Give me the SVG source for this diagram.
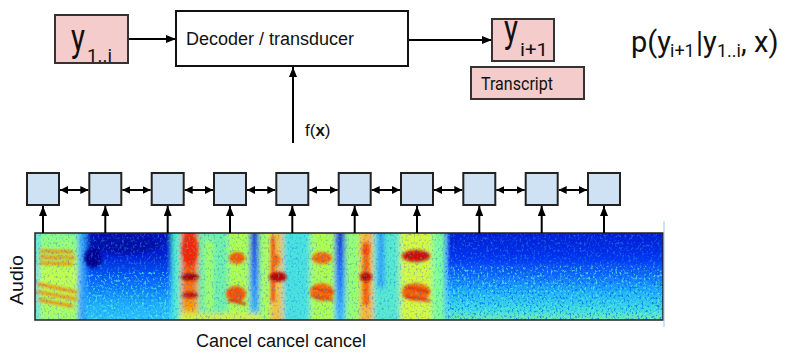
<svg xmlns="http://www.w3.org/2000/svg" width="794" height="359" viewBox="0 0 794 359">
<defs>
<style>
.pink{fill:#f4cccc;stroke:#333;stroke-width:2}
.cell{fill:#cfe2f3;stroke:#222;stroke-width:2}
.box{fill:#fff;stroke:#111;stroke-width:2}
.conn{stroke:#000;stroke-width:2;fill:none}
.sans{font-family:"Liberation Sans",Arial,sans-serif;fill:#111}
.rob{font-family:Roboto,"Liberation Sans",sans-serif;fill:#111}
</style>
<marker id="ah" viewBox="0 0 10 8" refX="10" refY="4" markerWidth="10" markerHeight="8" markerUnits="userSpaceOnUse" orient="auto-start-reverse"><path d="M0,0 L10,4 L0,8 z" fill="#000"/></marker>
<marker id="ahs" viewBox="0 0 8 8" refX="8" refY="4" markerWidth="8" markerHeight="8" markerUnits="userSpaceOnUse" orient="auto-start-reverse"><path d="M0,0 L8,4 L0,8 z" fill="#000"/></marker>
<clipPath id="specClip"><rect x="35" y="233" width="628" height="87"/></clipPath>
<linearGradient id="gB1" x1="0" y1="0" x2="0" y2="1"><stop offset="0" stop-color="#0008a8"/><stop offset="0.3" stop-color="#0020d8"/><stop offset="0.55" stop-color="#0868ff"/><stop offset="0.8" stop-color="#20b0ff"/><stop offset="1" stop-color="#30c8ff"/></linearGradient>
<linearGradient id="gB2" x1="0" y1="0" x2="0" y2="1"><stop offset="0" stop-color="#0018c8"/><stop offset="0.3" stop-color="#0030f0"/><stop offset="0.48" stop-color="#1068ff"/><stop offset="0.66" stop-color="#20b0ff"/><stop offset="0.86" stop-color="#40e0e0"/><stop offset="1" stop-color="#90f090"/></linearGradient>
<linearGradient id="gBand" x1="0" y1="0" x2="0" y2="1"><stop offset="0" stop-color="#0020d0"/><stop offset="0.5" stop-color="#1070ff"/><stop offset="1" stop-color="#40c8ff"/></linearGradient>
<linearGradient id="gRed" x1="0" y1="0" x2="0" y2="1"><stop offset="0" stop-color="#ff2800"/><stop offset="0.35" stop-color="#ff4800"/><stop offset="0.75" stop-color="#ff8800"/><stop offset="1" stop-color="#ffd000"/></linearGradient>
<linearGradient id="gLeft" x1="0" y1="0" x2="0" y2="1"><stop offset="0" stop-color="#80ff90"/><stop offset="0.5" stop-color="#c8ff48"/><stop offset="1" stop-color="#a0ff70"/></linearGradient>
<filter id="blur3" x="-10%" y="-10%" width="120%" height="120%"><feGaussianBlur stdDeviation="2.5"/></filter>
<filter id="blur2" x="-30%" y="-30%" width="160%" height="160%"><feGaussianBlur stdDeviation="1.8"/></filter>
<filter id="noiseDark" x="0" y="0" width="1" height="1" color-interpolation-filters="sRGB">
<feTurbulence type="fractalNoise" baseFrequency="0.5 0.38" numOctaves="2" seed="7"/>
<feColorMatrix type="matrix" values="0 0 0 0 0  0 0 0 0 0.25  0 0 0 0 0.95  4 0 0 0 -2.1"/>
</filter>
<filter id="noiseLight" x="0" y="0" width="1" height="1" color-interpolation-filters="sRGB">
<feTurbulence type="fractalNoise" baseFrequency="0.45 0.4" numOctaves="2" seed="19"/>
<feColorMatrix type="matrix" values="0 0 0 0 0.35  0 0 0 0 1  0 0 0 0 0.8  4 0 0 0 -2.1"/>
</filter>
</defs>

<g id="spectrogram">
<g clip-path="url(#specClip)">
<rect x="35" y="233" width="628" height="87" fill="#60f0c8"/>
<g filter="url(#blur3)">
<rect x="30" y="228" width="50" height="97" fill="url(#gLeft)"/>
<rect x="35" y="228" width="4" height="97" fill="#40d0ff"/>
<rect x="78" y="228" width="10" height="97" fill="#30a0ff"/>
<rect x="86" y="228" width="86" height="97" fill="url(#gB1)"/>
<rect x="172" y="228" width="9" height="97" fill="#50f0d0"/>
<rect x="181" y="228" width="17" height="97" fill="url(#gRed)"/>
<rect x="198" y="228" width="30" height="97" fill="#70f0a8"/>
<rect x="205" y="240" width="8" height="70" fill="#a8ff58"/>
<rect x="228" y="228" width="22" height="97" fill="#b0ff50"/>
<rect x="250" y="228" width="9" height="97" fill="url(#gBand)"/>
<rect x="259" y="228" width="11" height="97" fill="#a8ff60"/>
<rect x="270" y="228" width="13" height="97" fill="#f8c040"/>
<rect x="283" y="228" width="27" height="97" fill="#48e0e0"/>
<rect x="310" y="228" width="25" height="97" fill="#b0ff50"/>
<rect x="335" y="228" width="10" height="97" fill="url(#gBand)"/>
<rect x="345" y="228" width="15" height="97" fill="#98ff70"/>
<rect x="360" y="228" width="13" height="97" fill="#ffb038"/>
<rect x="373" y="228" width="27" height="97" fill="#58e8d0"/>
<rect x="378" y="228" width="6" height="60" fill="#2090ff"/>
<rect x="400" y="228" width="32" height="97" fill="#d8f840"/>
<rect x="432" y="228" width="13" height="97" fill="#80ff98"/>
<rect x="445" y="228" width="225" height="97" fill="url(#gB2)"/>
<rect x="180" y="313" width="80" height="10" fill="#d8f048"/>
</g>
<g filter="url(#blur2)">
<g stroke="#ff8000" stroke-width="3.2" stroke-linecap="round">
<line x1="41" y1="251" x2="72" y2="252"/>
<line x1="41" y1="257" x2="74" y2="258"/>
<line x1="41" y1="263" x2="72" y2="264"/>
<line x1="38" y1="284" x2="76" y2="292"/>
<line x1="38" y1="292" x2="76" y2="299"/>
<line x1="40" y1="300" x2="72" y2="306"/>
</g>
<ellipse cx="93" cy="258" rx="9" ry="10" fill="#000090"/>
<ellipse cx="125" cy="244" rx="35" ry="10" fill="#0010a8"/>
<ellipse cx="190" cy="250" rx="8" ry="15" fill="#ff2000"/>
<ellipse cx="190" cy="277" rx="9" ry="3.5" fill="#a00000"/>
<ellipse cx="190" cy="295" rx="8" ry="3" fill="#c01000"/>
<ellipse cx="237" cy="258" rx="8" ry="6" fill="#ff5800"/>
<ellipse cx="236" cy="294" rx="10" ry="8" fill="#ff5000"/>
<line x1="228" y1="300" x2="246" y2="304" stroke="#e02000" stroke-width="2.5"/>
<line x1="273" y1="236" x2="273" y2="302" stroke="#ff3000" stroke-width="3"/>
<ellipse cx="278" cy="277" rx="9" ry="5" fill="#c00000"/>
<ellipse cx="276" cy="260" rx="4" ry="6" fill="#ff6000"/>
<ellipse cx="322" cy="258" rx="10" ry="6" fill="#ff6000"/>
<ellipse cx="322" cy="292" rx="12" ry="9" fill="#ff6a00"/>
<line x1="312" y1="288" x2="333" y2="292" stroke="#e03000" stroke-width="2.5"/>
<line x1="312" y1="296" x2="333" y2="300" stroke="#e03000" stroke-width="2.5"/>
<line x1="366" y1="242" x2="366" y2="305" stroke="#ff6000" stroke-width="6"/>
<ellipse cx="366" cy="277" rx="6" ry="5" fill="#c00000"/>
<ellipse cx="366" cy="250" rx="4" ry="5" fill="#ff4000"/>
<ellipse cx="416" cy="256" rx="14" ry="6" fill="#d01000"/>
<ellipse cx="416" cy="292" rx="14" ry="9" fill="#ff6000"/>
<line x1="404" y1="287" x2="430" y2="292" stroke="#d82000" stroke-width="2.5"/>
<line x1="404" y1="296" x2="430" y2="301" stroke="#d82000" stroke-width="2.5"/>
<line x1="446" y1="234" x2="446" y2="318" stroke="#60c8ff" stroke-width="2"/>
</g>
<rect x="35" y="233" width="628" height="87" filter="url(#noiseDark)" opacity="0.3"/>
<rect x="35" y="233" width="628" height="87" filter="url(#noiseLight)" opacity="0.3"/>
<rect x="86" y="272" width="86" height="48" filter="url(#noiseLight)" opacity="0.55"/>
<rect x="445" y="266" width="218" height="54" filter="url(#noiseLight)" opacity="0.6"/>
<rect x="445" y="233" width="218" height="87" filter="url(#noiseDark)" opacity="0.45"/>
</g>
<rect x="35" y="233" width="628" height="87" fill="none" stroke="#222" stroke-width="1.5"/>
<line x1="664" y1="221" x2="664" y2="327" stroke="#9fc5e8" stroke-width="1"/>
</g>

<g id="connectors">
<line class="conn" x1="129" y1="39" x2="176" y2="39" marker-end="url(#ah)"/>
<line class="conn" x1="408" y1="40" x2="492" y2="40" marker-end="url(#ah)"/>
<line class="conn" x1="293" y1="143" x2="293" y2="67" marker-end="url(#ah)"/>
<g id="up-arrows">
<line class="conn" x1="43" y1="233" x2="43" y2="206" marker-end="url(#ah)"/>
<line class="conn" x1="105.3" y1="233" x2="105.3" y2="206" marker-end="url(#ah)"/>
<line class="conn" x1="167.7" y1="233" x2="167.7" y2="206" marker-end="url(#ah)"/>
<line class="conn" x1="230" y1="233" x2="230" y2="206" marker-end="url(#ah)"/>
<line class="conn" x1="292.3" y1="233" x2="292.3" y2="206" marker-end="url(#ah)"/>
<line class="conn" x1="354.7" y1="233" x2="354.7" y2="206" marker-end="url(#ah)"/>
<line class="conn" x1="417" y1="233" x2="417" y2="206" marker-end="url(#ah)"/>
<line class="conn" x1="479.3" y1="233" x2="479.3" y2="206" marker-end="url(#ah)"/>
<line class="conn" x1="541.7" y1="233" x2="541.7" y2="206" marker-end="url(#ah)"/>
<line class="conn" x1="604" y1="233" x2="604" y2="206" marker-end="url(#ah)"/>
</g>
<g id="bi-arrows">
<line class="conn" x1="60" y1="190" x2="88.3" y2="190" marker-start="url(#ahs)" marker-end="url(#ahs)"/>
<line class="conn" x1="122.3" y1="190" x2="150.7" y2="190" marker-start="url(#ahs)" marker-end="url(#ahs)"/>
<line class="conn" x1="184.7" y1="190" x2="213" y2="190" marker-start="url(#ahs)" marker-end="url(#ahs)"/>
<line class="conn" x1="247" y1="190" x2="275.3" y2="190" marker-start="url(#ahs)" marker-end="url(#ahs)"/>
<line class="conn" x1="309.3" y1="190" x2="337.7" y2="190" marker-start="url(#ahs)" marker-end="url(#ahs)"/>
<line class="conn" x1="371.7" y1="190" x2="400" y2="190" marker-start="url(#ahs)" marker-end="url(#ahs)"/>
<line class="conn" x1="434" y1="190" x2="462.3" y2="190" marker-start="url(#ahs)" marker-end="url(#ahs)"/>
<line class="conn" x1="496.3" y1="190" x2="524.7" y2="190" marker-start="url(#ahs)" marker-end="url(#ahs)"/>
<line class="conn" x1="558.7" y1="190" x2="587" y2="190" marker-start="url(#ahs)" marker-end="url(#ahs)"/>
</g>
</g>

<g id="y1i">
<rect class="pink" x="55" y="15" width="73" height="48"/>
<text class="rob" x="71" y="51" font-size="38" textLength="14" lengthAdjust="spacingAndGlyphs">y</text>
<text class="rob" x="87" y="62" font-size="19" textLength="25" lengthAdjust="spacingAndGlyphs">1..i</text>
</g>

<g id="decoder">
<rect class="box" x="176" y="11" width="232" height="55"/>
<text class="sans" x="186" y="45" font-size="18">Decoder / transducer</text>
</g>

<g id="yi1">
<rect class="pink" x="492" y="19" width="62" height="42"/>
<text class="rob" x="504" y="42" font-size="38" textLength="14" lengthAdjust="spacingAndGlyphs">y</text>
<text class="rob" x="520" y="56" font-size="19" textLength="28" lengthAdjust="spacingAndGlyphs">i+1</text>
</g>

<g id="transcript">
<rect class="pink" x="471" y="67" width="113" height="32"/>
<text class="rob" x="481" y="90" font-size="18" textLength="72" lengthAdjust="spacingAndGlyphs">Transcript</text>
</g>

<g id="formula">
<text class="rob" font-size="29" y="52"><tspan x="631">p(y</tspan><tspan x="670" y="57" font-size="18">i+1</tspan><tspan x="696" y="52">|y</tspan><tspan x="717" y="57" font-size="18">1..i</tspan><tspan x="741" y="52">,</tspan><tspan x="754">x)</tspan></text>
</g>

<g id="fx">
<text class="sans" x="305" y="136" font-size="17">f(<tspan font-weight="bold">x</tspan>)</text>
</g>

<g id="rnn">
<rect class="cell" x="27" y="173" width="32" height="32"/>
<rect class="cell" x="89.3" y="173" width="32" height="32"/>
<rect class="cell" x="151.7" y="173" width="32" height="32"/>
<rect class="cell" x="214" y="173" width="32" height="32"/>
<rect class="cell" x="276.3" y="173" width="32" height="32"/>
<rect class="cell" x="338.7" y="173" width="32" height="32"/>
<rect class="cell" x="401" y="173" width="32" height="32"/>
<rect class="cell" x="463.3" y="173" width="32" height="32"/>
<rect class="cell" x="525.7" y="173" width="32" height="32"/>
<rect class="cell" x="588" y="173" width="32" height="32"/>
</g>

<g id="labels">
<text class="sans" font-size="18" transform="translate(23,280) rotate(-90)" text-anchor="middle" textLength="50" lengthAdjust="spacingAndGlyphs">Audio</text>
<text class="sans" x="196" y="347" font-size="18">Cancel cancel cancel</text>
</g>
</svg>
